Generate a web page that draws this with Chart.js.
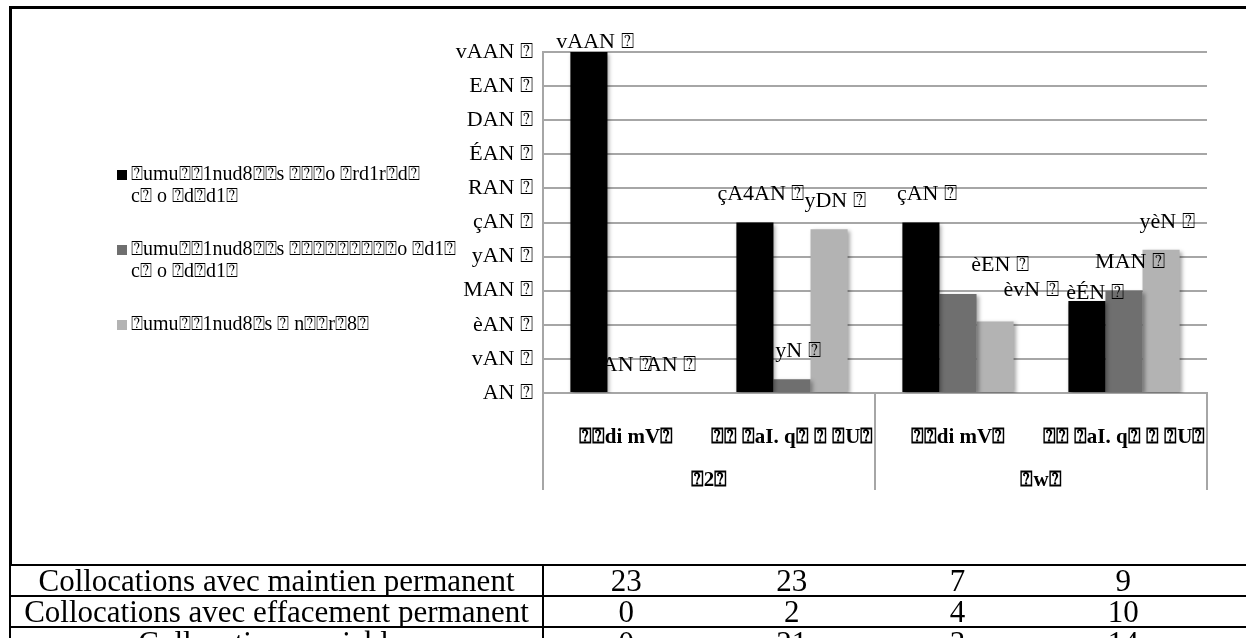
<!DOCTYPE html>
<html>
<head>
<meta charset="utf-8">
<script src="https://cdn.jsdelivr.net/npm/chart.js@4.4.1/dist/chart.umd.min.js"></script>
<style>
body { margin: 0; background: #fff; width: 1246px; height: 638px; overflow: hidden; position: relative; font-family: 'Liberation Serif', serif; }
#box { position: absolute; left: 9px; top: 6px; width: 1250px; height: 556px; border-top: 3px solid #000; border-left: 3px solid #000; }
#wrap { position: absolute; left: 0; top: 0; width: 1246px; height: 565px; }
table { position: absolute; left: 9px; top: 564px; border-collapse: collapse; table-layout: fixed; font-size: 31px; }
td { border-top: 2px solid #000; border-bottom: 2px solid #000; height: 29px; padding: 0; text-align: center; line-height: 29px; white-space: nowrap; overflow: hidden; }
td.first { border-left: 2px solid #000; border-right: 2px solid #000; }
</style>
</head>
<body>
<div id="box"></div>
<div id="wrap"><canvas id="myChart"></canvas></div>
<table id="tbl">
  <colgroup><col style="width:533px"><col style="width:166px"><col style="width:166px"><col style="width:166px"><col style="width:166px"><col style="width:40px"></colgroup>
  <tbody></tbody>
</table>
<script>
// categories (as shown, garbled in the source picture)
var categories = ['⍰⍰di mV⍰', '⍰⍰ ⍰aI. q⍰ ⍰ ⍰U⍰', '⍰⍰di mV⍰', '⍰⍰ ⍰aI. q⍰ ⍰ ⍰U⍰'];
var groups = ['⍰2⍰', '⍰w⍰'];

// percentages
var maintien = [100, 50, 50, 27];
var effacement = [0, 4, 29, 30];
var variables = [0, 48, 21, 42];

// data label texts as printed above the bars
var maintienLabels = ['vAAN ⍰', 'çA4AN ⍰', 'çAN ⍰', 'èÉN ⍰'];
var effacementLabels = ['AN ⍰', 'yN ⍰', 'èEN ⍰', 'MAN ⍰'];
var variablesLabels = ['AN ⍰', 'yDN ⍰', 'èvN ⍰', 'yèN ⍰'];

// y tick labels 0..100 step 10
var tickLabels = ['AN ⍰', 'vAN ⍰', 'èAN ⍰', 'MAN ⍰', 'yAN ⍰', 'çAN ⍰', 'RAN ⍰', 'ÉAN ⍰', 'DAN ⍰', 'EAN ⍰', 'vAAN ⍰'];

// legend texts
var legendMaintien = ['⍰umu⍰⍰1nud8⍰⍰s ⍰⍰⍰o ⍰rd1r⍰d⍰', 'c⍰ o ⍰d⍰d1⍰'];
var legendEffacement = ['⍰umu⍰⍰1nud8⍰⍰s ⍰⍰⍰⍰⍰⍰⍰⍰⍰o ⍰d1⍰', 'c⍰ o ⍰d⍰d1⍰'];
var legendVariables = ['⍰umu⍰⍰1nud8⍰s ⍰ n⍰⍰r⍰8⍰'];

// table below the chart
var rowNames = ['Collocations avec maintien permanent', 'Collocations avec effacement permanent', 'Collocations variables'];
var countsMaintien = [23, 23, 7, 9];
var countsEffacement = [0, 2, 4, 10];
var countsVariables = [0, 21, 3, 14];

var tbody = document.querySelector('#tbl tbody');
[countsMaintien, countsEffacement, countsVariables].forEach(function (row, r) {
    var tr = document.createElement('tr');
    var html = '<td class="first">' + rowNames[r] + '</td>';
    row.forEach(function (v) { html += '<td>' + v + '</td>'; });
    html += '<td></td>';
    tr.innerHTML = html;
    tbody.appendChild(tr);
});

const FONT = "'Liberation Serif', serif";

const shadowPlugin = {
    id: 'shadow',
    beforeDatasetsDraw(chart) {
        const c = chart.ctx;
        c.save();
        c.shadowColor = 'rgba(0,0,0,0.35)';
        c.shadowBlur = 4;
        c.shadowOffsetX = 2;
        c.shadowOffsetY = 2;
    },
    afterDatasetsDraw(chart) {
        chart.ctx.restore();
    }
};

const labelPlugin = {
    id: 'barLabels',
    afterDatasetsDraw(chart, args, opts) {
        const c = chart.ctx;
        c.save();
        c.font = '22px ' + FONT;
        c.fillStyle = '#000';
        c.textAlign = 'center';
        c.textBaseline = 'middle';
        chart.data.datasets.forEach(function (ds, d) {
            chart.getDatasetMeta(d).data.forEach(function (bar, i) {
                const s = opts.shift[d + ',' + i] || {};
                const dx = s.dx !== undefined ? s.dx : 6;
                const dy = s.dy !== undefined ? s.dy : -28;
                c.fillText(ds.valueLabels[i], bar.x + dx, bar.y + dy);
            });
        });
        c.restore();
    }
};

const legendPlugin = {
    id: 'sideLegend',
    afterDraw(chart) {
        const c = chart.ctx;
        c.save();
        c.font = '20px ' + FONT;
        c.textBaseline = 'middle';
        let y = 175;
        chart.data.datasets.forEach(function (ds) {
            c.fillStyle = ds.backgroundColor;
            c.fillRect(117, y - 5, 10, 10);
            c.fillStyle = '#000';
            ds.legendLines.forEach(function (line, k) {
                c.fillText(line, 131, y + k * 22);
            });
            y += 75;
        });
        c.restore();
    }
};

const groupLines = {
    id: 'groupLines',
    afterDraw(chart) {
        const x = chart.scales.x, x2 = chart.scales.x2;
        const c = chart.ctx;
        const mid = (x.getPixelForValue(1) + x.getPixelForValue(2)) / 2;
        c.save();
        c.strokeStyle = '#a6a6a6';
        c.lineWidth = 2;
        [x.left, mid, x.right].forEach(function (px) {
            c.beginPath();
            c.moveTo(px, x.top);
            c.lineTo(px, x2.bottom);
            c.stroke();
        });
        c.restore();
    }
};

new Chart(document.getElementById('myChart'), {
    type: 'bar',
    data: {
        labels: categories,
        datasets: [
            { label: legendMaintien.join(' '), legendLines: legendMaintien, data: maintien, valueLabels: maintienLabels, backgroundColor: '#000000' },
            { label: legendEffacement.join(' '), legendLines: legendEffacement, data: effacement, valueLabels: effacementLabels, backgroundColor: '#6f6f6f' },
            { label: legendVariables.join(' '), legendLines: legendVariables, data: variables, valueLabels: variablesLabels, backgroundColor: '#b3b3b3' }
        ]
    },
    options: {
        responsive: true,
        maintainAspectRatio: false,
        animation: false,
        categoryPercentage: 0.67,
        barPercentage: 1.0,
        layout: { padding: { left: 0, right: 39, top: 52, bottom: 75 } },
        plugins: {
            legend: { display: false },
            tooltip: { enabled: false },
            barLabels: {
                shift: {
                    '0,0': { dy: -10 },
                    '1,0': { dx: 1 },
                    '2,0': { dx: 8 },
                    '1,2': { dx: 42, dy: -29 },
                    '2,2': { dx: 36, dy: -31 },
                    '0,3': { dx: 8, dy: -8 }
                }
            }
        },
        scales: {
            y: {
                min: 0,
                max: 100,
                ticks: {
                    stepSize: 10,
                    padding: 10,
                    color: '#000',
                    font: { family: FONT, size: 22 },
                    callback: function (v) { return tickLabels[Math.round(v / 10)]; }
                },
                grid: { color: '#a6a6a6', lineWidth: 2, drawTicks: false },
                border: { color: '#a6a6a6', width: 2 },
                afterFit: function (s) { s.width = 543; }
            },
            x: {
                ticks: { color: '#000', padding: 32, font: { family: FONT, size: 21, weight: 'bold' }, maxRotation: 0, autoSkip: false },
                grid: { drawOnChartArea: false, drawTicks: false, color: '#a6a6a6' },
                border: { color: '#a6a6a6', width: 2 },
                afterFit: function (s) { s.height = 65; }
            },
            x2: {
                type: 'category',
                position: 'bottom',
                labels: groups,
                offset: true,
                ticks: { color: '#000', padding: 10, font: { family: FONT, size: 21, weight: 'bold' }, maxRotation: 0 },
                grid: { display: false, drawTicks: false },
                border: { display: false },
                afterFit: function (s) { s.height = 32; }
            }
        }
    },
    plugins: [shadowPlugin, labelPlugin, legendPlugin, groupLines]
});
</script>
</body>
</html>
